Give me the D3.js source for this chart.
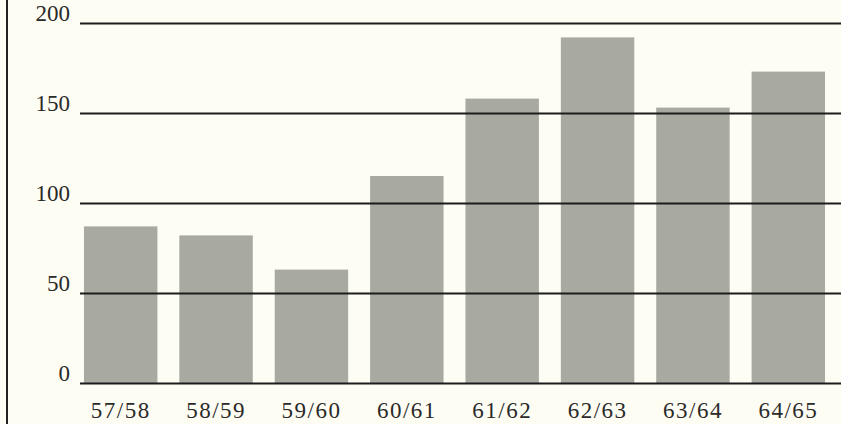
<!doctype html>
<html>
  <head>
    <meta charset="utf-8">
    <title>bar chart</title>
    <script src="https://d3js.org/d3.v7.min.js"></script>
    <style type="text/css">
      body {
        margin: 0;
        background-color: #fefdf3;
      }
      text {
        font-family: "Liberation Serif", "DejaVu Serif", serif;
        fill: #2a2a2a;
      }
    </style>
  </head>
  <body>
    <script>
      // data
      var seasons = ["57/58", "58/59", "59/60", "60/61", "61/62", "62/63", "63/64", "64/65"];
      var values = [87, 82, 63, 115, 158, 192, 153, 173];
      var yTicks = [0, 50, 100, 150, 200];

      var w = 841;
      var h = 424;

      var x = d3.scaleBand()
        .domain(seasons)
        .range([73, 836])
        .paddingInner(0.23)
        .paddingOuter(0.115);

      var y = d3.scaleLinear()
        .domain([0, 200])
        .range([383, 23]);

      var svg = d3.select("body")
        .append("svg")
        .attr("width", w)
        .attr("height", h);

      // left border rule
      svg.append("line")
        .attr("x1", 7).attr("x2", 7)
        .attr("y1", 0).attr("y2", h)
        .style("stroke", "#222")
        .style("stroke-width", 2);

      // bars
      svg.append("g").selectAll("rect")
        .data(values)
        .enter()
        .append("rect")
        .attr("x", function(d, i) { return x(seasons[i]); })
        .attr("y", function(d) { return y(d); })
        .attr("width", x.bandwidth())
        .attr("height", function(d) { return y(0) - y(d); })
        .style("fill", "#a8a9a1");

      // gridlines drawn over bars, with labels on the left
      var yAxis = d3.axisLeft(y)
        .tickValues(yTicks)
        .tickSize(-(w - 80))
        .tickPadding(10);

      var gy = svg.append("g")
        .attr("transform", "translate(80,0)")
        .call(yAxis);
      gy.select(".domain").remove();
      gy.selectAll(".tick line")
        .style("stroke", "#1c1c1c")
        .style("stroke-width", 2);
      gy.selectAll(".tick text")
        .attr("dy", "-0.12em")
        .style("font-size", "23px")
        .style("fill", "#2a2a2a");

      // season labels
      var xAxis = d3.axisBottom(x).tickSize(0).tickPadding(0);
      var gx = svg.append("g")
        .attr("transform", "translate(0,418)")
        .call(xAxis);
      gx.select(".domain").remove();
      gx.selectAll(".tick text")
        .attr("dy", 0)
        .attr("y", 0)
        .style("font-size", "23px")
        .style("letter-spacing", "1.5px")
        .style("fill", "#2a2a2a");
    </script>
  </body>
</html>
